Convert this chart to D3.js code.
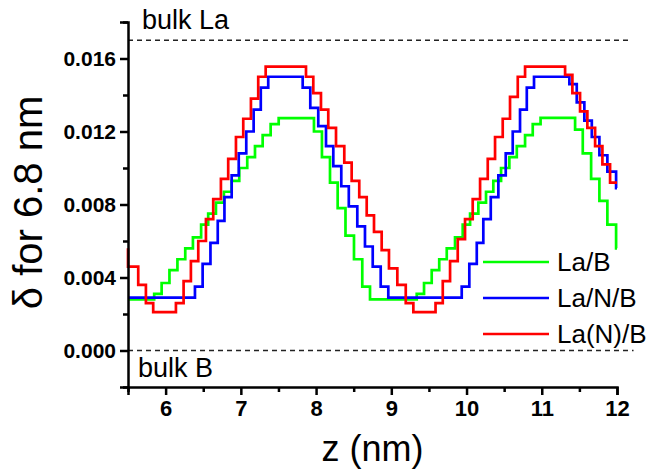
<!DOCTYPE html>
<html>
  <head>
    <meta charset="utf-8">
    <title>delta profile</title>
    <style>
      body { margin: 0; background: #fff; }
      text { font-family: "Liberation Sans", Arial, sans-serif; }
    </style>
  </head>
  <body>
    <script src="https://d3js.org/d3.v7.min.js"></script>
    <svg id="chart" width="657" height="471"></svg>
    <script>
      const width = 657
      const height = 471
      const margin = { top: 22, right: 40, bottom: 84, left: 128 }

      // series names and legend labels
      const seriesNames = ['La/B', 'La/N/B', 'La(N)/B']
      const seriesColors = ['#00ff00', '#0000ff', '#ff0000']

      // La/B (step start z, delta)
      const zGreen = [5.5, 5.848, 5.947, 6.051, 6.157, 6.261, 6.363, 6.472, 6.566, 6.669, 6.775, 6.878, 6.979, 7.085, 7.188, 7.290, 7.396, 7.503,
        7.972, 8.078, 8.185, 8.287, 8.391, 8.504, 8.614, 8.717,
        9.338, 9.435, 9.537, 9.637, 9.737, 9.847, 9.949, 10.047, 10.157, 10.259, 10.356, 10.459, 10.569, 10.668, 10.778, 10.880, 10.984,
        11.443, 11.545, 11.656, 11.766, 11.872, 11.988, 12.0]
      const dGreen = [0.0028, 0.0031, 0.0037, 0.0044, 0.0050, 0.0056, 0.0062, 0.0069, 0.0075, 0.0081, 0.0087, 0.0093, 0.0100, 0.0106, 0.0112, 0.0118, 0.0124, 0.01273,
        0.0120, 0.0106, 0.0092, 0.0078, 0.0063, 0.0050, 0.0035, 0.0028,
        0.0031, 0.0037, 0.0044, 0.0050, 0.0056, 0.0062, 0.0069, 0.0075, 0.0081, 0.0087, 0.0093, 0.0100, 0.0106, 0.0112, 0.0118, 0.0124, 0.01275,
        0.0121, 0.0108, 0.0094, 0.0082, 0.0069, 0.0056, 0.0056]

      // La/N/B
      const zBlue = [5.5, 6.390, 6.492, 6.596, 6.693, 6.782, 6.878, 6.972, 7.072, 7.170, 7.265, 7.364,
        7.822, 7.923, 8.029, 8.132, 8.229, 8.335, 8.435, 8.548, 8.650, 8.753, 8.859, 8.960,
        9.936, 10.037, 10.136, 10.223, 10.322, 10.423, 10.521, 10.614, 10.711, 10.801, 10.897,
        11.367, 11.465, 11.566, 11.665, 11.766, 11.872, 11.988, 12.0]
      const dBlue = [0.0029, 0.0035, 0.00475, 0.0059, 0.0071, 0.0084, 0.0096, 0.0108, 0.0120, 0.0132, 0.0144, 0.0150,
        0.0144, 0.0133, 0.0123, 0.0112, 0.0101, 0.0090, 0.0079, 0.0068, 0.0057, 0.0046, 0.0035, 0.0029,
        0.0035, 0.00475, 0.0059, 0.0072, 0.0084, 0.0096, 0.0108, 0.0120, 0.0132, 0.0144, 0.0150,
        0.0146, 0.0136, 0.0126, 0.0117, 0.0107, 0.0098, 0.0089, 0.0089]

      // La(N)/B
      const zRed = [5.5, 5.5, 5.636, 5.738, 5.835, 6.137, 6.239, 6.336, 6.434, 6.536, 6.633, 6.735, 6.832, 6.935, 7.032, 7.134, 7.231, 7.330,
        7.866, 7.963, 8.065, 8.162, 8.265, 8.375, 8.473, 8.574, 8.673, 8.770, 8.872, 8.969, 9.080, 9.192, 9.293,
        9.588, 9.684, 9.781, 9.883, 9.980, 10.082, 10.180, 10.282, 10.379, 10.481, 10.578, 10.681, 10.778,
        11.310, 11.407, 11.509, 11.606, 11.709, 11.806, 11.908, 12.0]
      const dRed = [0.0056, 0.0046, 0.0036, 0.0026, 0.0021, 0.0026, 0.0038, 0.0049, 0.0060, 0.0072, 0.0083, 0.0094, 0.0105, 0.0117, 0.0127, 0.0138, 0.0150, 0.01556,
        0.0150, 0.0141, 0.0132, 0.0122, 0.0112, 0.0103, 0.0093, 0.0084, 0.0074, 0.0065, 0.0055, 0.0045, 0.0036, 0.0026, 0.0021,
        0.0026, 0.0038, 0.0049, 0.0061, 0.0072, 0.0083, 0.0094, 0.0105, 0.0117, 0.0127, 0.0139, 0.0150, 0.01556,
        0.0151, 0.0141, 0.0131, 0.0122, 0.0112, 0.0102, 0.0092, 0.0092]

      // reference levels
      const bulkLevels = [0.017, 0.0]
      const bulkLabels = ['bulk La', 'bulk B']

      const xTicks = [6, 7, 8, 9, 10, 11, 12]
      const xMinorTicks = [5.5, 6.5, 7.5, 8.5, 9.5, 10.5, 11.5]
      const yTicks = [0.000, 0.004, 0.008, 0.012, 0.016]
      const yMinorTicks = [-0.002, 0.002, 0.006, 0.010, 0.014, 0.018]

      const series = [
        { name: seriesNames[0], color: seriesColors[0], z: zGreen, d: dGreen },
        { name: seriesNames[1], color: seriesColors[1], z: zBlue, d: dBlue },
        { name: seriesNames[2], color: seriesColors[2], z: zRed, d: dRed }
      ]

      const svg = d3.select('#chart')

      const x = d3.scaleLinear([5.5, 12], [margin.left, width - margin.right])
      const y = d3.scaleLinear([-0.002, 0.018], [height - margin.bottom, margin.top])

      // dashed bulk lines
      svg.selectAll('line.bulk')
        .data(bulkLevels)
        .join('line')
          .attr('class', 'bulk')
          .attr('x1', x(5.5))
          .attr('x2', (d, i) => i === 0 ? x(12.15) : x(12.22))
          .attr('y1', d => y(d))
          .attr('y2', d => y(d))
          .style('stroke', '#222')
          .style('stroke-width', 1.3)
          .style('stroke-dasharray', '5,4')

      svg.selectAll('text.bulk')
        .data(bulkLabels)
        .join('text')
          .attr('class', 'bulk')
          .attr('x', (d, i) => i === 0 ? x(5.5) + 14 : x(5.5) + 10)
          .attr('y', (d, i) => i === 0 ? y(bulkLevels[0]) - 11 : y(bulkLevels[1]) + 26)
          .style('font-size', '27px')
          .text(d => d)

      const line = d3.line()
        .x(p => x(p[0]))
        .y(p => y(p[1]))
        .curve(d3.curveStepAfter)

      svg.selectAll('path.series')
        .data(series)
        .join('path')
          .attr('class', 'series')
          .attr('d', s => line(s.z.map((z, i) => [z, s.d[i]])))
          .style('fill', 'none')
          .style('stroke', s => s.color)
          .style('stroke-width', 2.7)

      // axes
      const xAxis = svg.append('g')
        .attr('transform', `translate(0,${ height - margin.bottom })`)
        .call(d3.axisBottom(x).tickValues(xTicks).tickFormat(d3.format('d')).tickSizeOuter(0).tickSize(8).tickPadding(5))
      svg.append('g')
        .attr('transform', `translate(0,${ height - margin.bottom })`)
        .call(d3.axisBottom(x).tickValues(xMinorTicks).tickFormat('').tickSizeOuter(0).tickSize(5))
        .select('.domain').remove()

      const yAxis = svg.append('g')
        .attr('transform', `translate(${ margin.left },0)`)
        .call(d3.axisLeft(y).tickValues(yTicks).tickFormat(d3.format('.3f')).tickSizeOuter(0).tickSize(8).tickPadding(4))
      svg.append('g')
        .attr('transform', `translate(${ margin.left },0)`)
        .call(d3.axisLeft(y).tickValues(yMinorTicks).tickFormat('').tickSizeOuter(0).tickSize(5))
        .select('.domain').remove()

      svg.selectAll('.domain, .tick line')
        .style('stroke', '#000')
        .style('stroke-width', 2.5)
      xAxis.selectAll('text').style('font-size', '22px').style('font-weight', 'bold').style('fill', '#000')
      yAxis.selectAll('text').style('font-size', '21px').style('font-weight', 'bold').style('fill', '#000')
      svg.selectAll('text').style('font-family', '"Liberation Sans", Arial, sans-serif')

      // axis titles
      svg.append('text')
        .attr('x', (margin.left + width - margin.right) / 2)
        .attr('y', 461)
        .attr('text-anchor', 'middle')
        .style('font-size', '36px')
        .text('z (nm)')

      svg.append('text')
        .attr('transform', `translate(42,${ (margin.top + height - margin.bottom) / 2 - 2 }) rotate(-90)`)
        .attr('text-anchor', 'middle')
        .style('font-size', '40px')
        .text('δ for 6.8 nm')

      // legend
      const legend = svg.append('g')
        .selectAll('g')
        .data(series)
        .join('g')
          .attr('transform', (d, i) => `translate(483,${ 262 + i * 36 })`)
      legend.append('line')
        .attr('x1', 0)
        .attr('x2', 66)
        .style('stroke', s => s.color)
        .style('stroke-width', 2.7)
      legend.append('text')
        .attr('x', 74)
        .attr('dy', '0.35em')
        .style('font-size', '26px')
        .text(s => s.name)
    </script>
  </body>
</html>
